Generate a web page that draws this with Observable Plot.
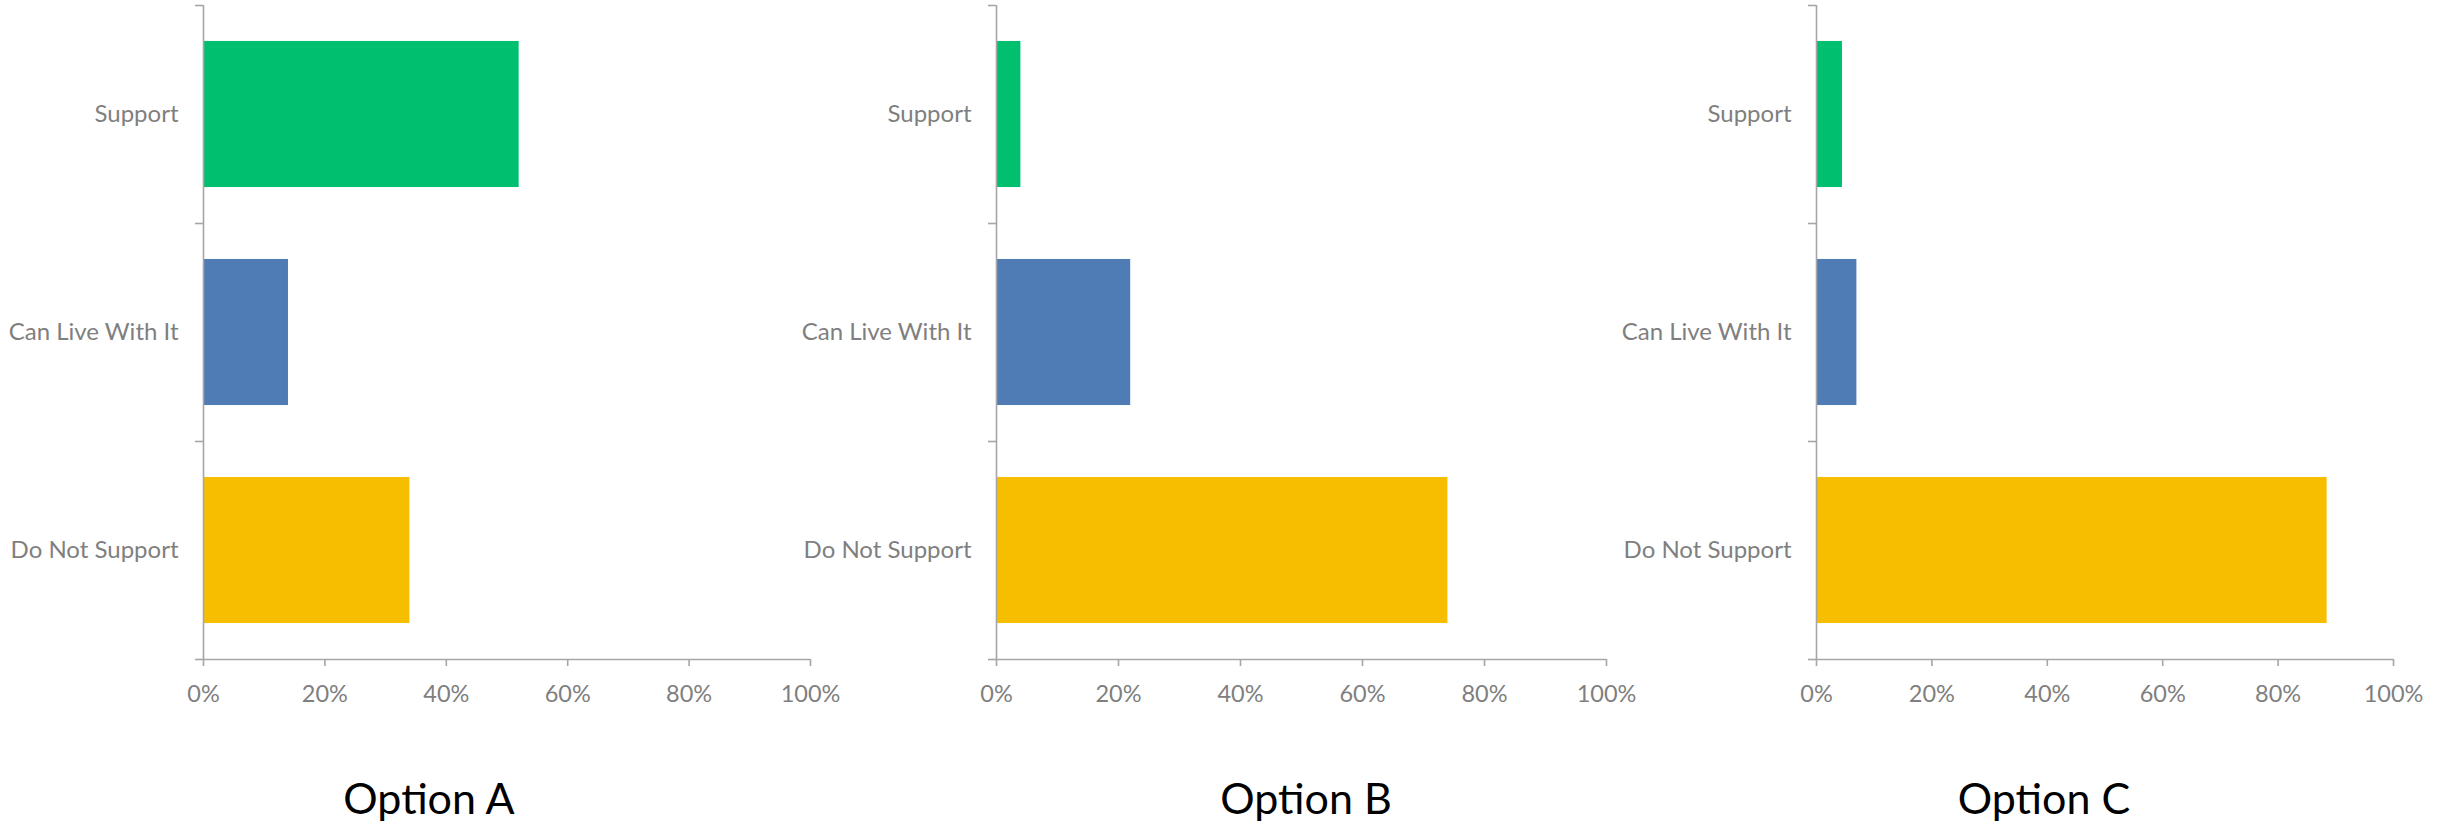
<!DOCTYPE html>
<html>
<head>
<meta charset="utf-8">
<script src="https://cdn.jsdelivr.net/npm/d3@7"></script>
<script src="https://cdn.jsdelivr.net/npm/@observablehq/plot@0.6"></script>
<style>
  html, body { margin: 0; padding: 0; background: #fff; }
  #root { position: relative; width: 2445px; height: 826px; overflow: hidden; }
  .panel { position: absolute; top: 0; }
  .title { position: absolute; font-family: Lato, "Open Sans", sans-serif; font-size: 43px; line-height: 43px; color: #000; white-space: nowrap; transform: translateX(-50%); }
</style>
</head>
<body>
<div id="root"></div>
<script>
// ---- data ----
const categories = ["Support", "Can Live With It", "Do Not Support"];
const optionNames = ["Option A", "Option B", "Option C"];
const optionA = [52, 14, 34];
const optionB = [4, 22, 74];
const optionC = [4.5, 7, 88.5];
const xTicks = [0, 20, 40, 60, 80, 100];
const barColors = ["#00bf6f", "#4f7cb5", "#f7be00"];

// ---- layout ----
const seriesList = [optionA, optionB, optionC];
const panels = [
  {axisLeft: 203, plotWidth: 607, titleX: 429},
  {axisLeft: 996, plotWidth: 610, titleX: 1306},
  {axisLeft: 1816, plotWidth: 577, titleX: 2044}
];
const marginLeft = 203, marginRight = 45, marginTop = 5, plotHeight = 654, marginBottom = 60;
const pad = 0.165;
const lineColor = "#a6a6a6", textColor = "#7f7f7f";

const root = document.getElementById("root");

panels.forEach((p, k) => {
  const values = seriesList[k];
  const data = categories.map((c, i) => ({category: c, i, value: values[i]}));
  const chart = Plot.plot({
    width: marginLeft + p.plotWidth + marginRight,
    height: marginTop + plotHeight + marginBottom,
    marginLeft, marginRight, marginTop, marginBottom,
    style: {fontFamily: "Lato, 'Open Sans', sans-serif", fontSize: "23.5px", background: "transparent", overflow: "visible"},
    x: {domain: [0, 100]},
    y: {domain: [0, categories.length], reverse: true},
    marks: [
      Plot.rectX(data, {
        x1: () => 0, x2: "value",
        y1: d => d.i + pad, y2: d => d.i + 1 - pad,
        fill: d => barColors[d.i]
      }),
      // x axis line + ticks + labels
      Plot.ruleY([categories.length], {stroke: lineColor, strokeWidth: 1.6}),
      Plot.axisX({
        ticks: xTicks, tickSize: 7, tickPadding: 19,
        tickFormat: d => d + "%", stroke: lineColor, fill: textColor,
        strokeWidth: 1.6, label: null
      }),
      // y axis line, boundary ticks, category labels
      Plot.ruleX([0], {y1: 0, y2: categories.length, stroke: lineColor, strokeWidth: 1.6}),
      Plot.axisY({
        ticks: d3.range(categories.length + 1), tickSize: 8, tickFormat: () => "",
        stroke: lineColor, strokeWidth: 1.6, label: null
      }),
      Plot.axisY({
        ticks: categories.map((c, i) => i + 0.5), tickSize: 0, tickPadding: 25,
        tickFormat: d => categories[Math.floor(d)], fill: textColor, fontSize: 24, label: null
      })
    ]
  });
  chart.classList.add("panel");
  chart.style.left = (p.axisLeft - marginLeft) + "px";
  chart.style.maxWidth = "none";
  root.appendChild(chart);

  const t = document.createElement("div");
  t.className = "title";
  t.textContent = optionNames[k];
  t.style.left = p.titleX + "px";
  t.style.top = "776px";
  root.appendChild(t);
});
</script>
</body>
</html>
